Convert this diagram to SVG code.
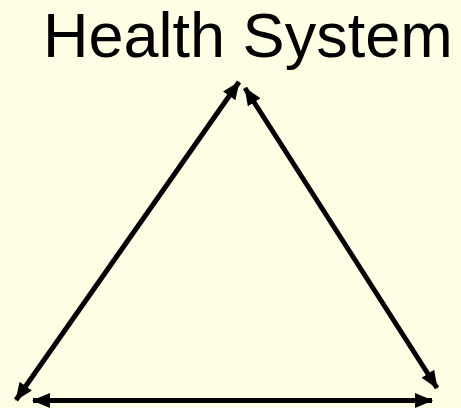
<svg xmlns="http://www.w3.org/2000/svg" width="461" height="408" viewBox="0 0 461 408">
<defs>
<style>
.title{font-family:"Liberation Sans",Arial,sans-serif;font-size:63px;fill:#000}
.conn{stroke:#000;stroke-width:5;fill:none;marker-start:url(#ah);marker-end:url(#ah)}
</style>
<marker id="ah" markerUnits="userSpaceOnUse" markerWidth="20" markerHeight="16" refX="17" refY="7.5" orient="auto-start-reverse" viewBox="0 0 20 16">
<path d="M0,0 L18,7.5 L0,15 z" fill="#000"/>
</marker>
</defs>
<rect width="461" height="408" fill="#FFFFE5"/>
<g id="title"><text class="title" x="43" y="57">Health System</text></g>
<g id="connectors">
<line class="conn" x1="16" y1="400" x2="239" y2="82"/>
<line class="conn" x1="245" y1="88" x2="437" y2="388"/>
<line class="conn" x1="33" y1="400.5" x2="432" y2="400.5"/>
</g>
</svg>
